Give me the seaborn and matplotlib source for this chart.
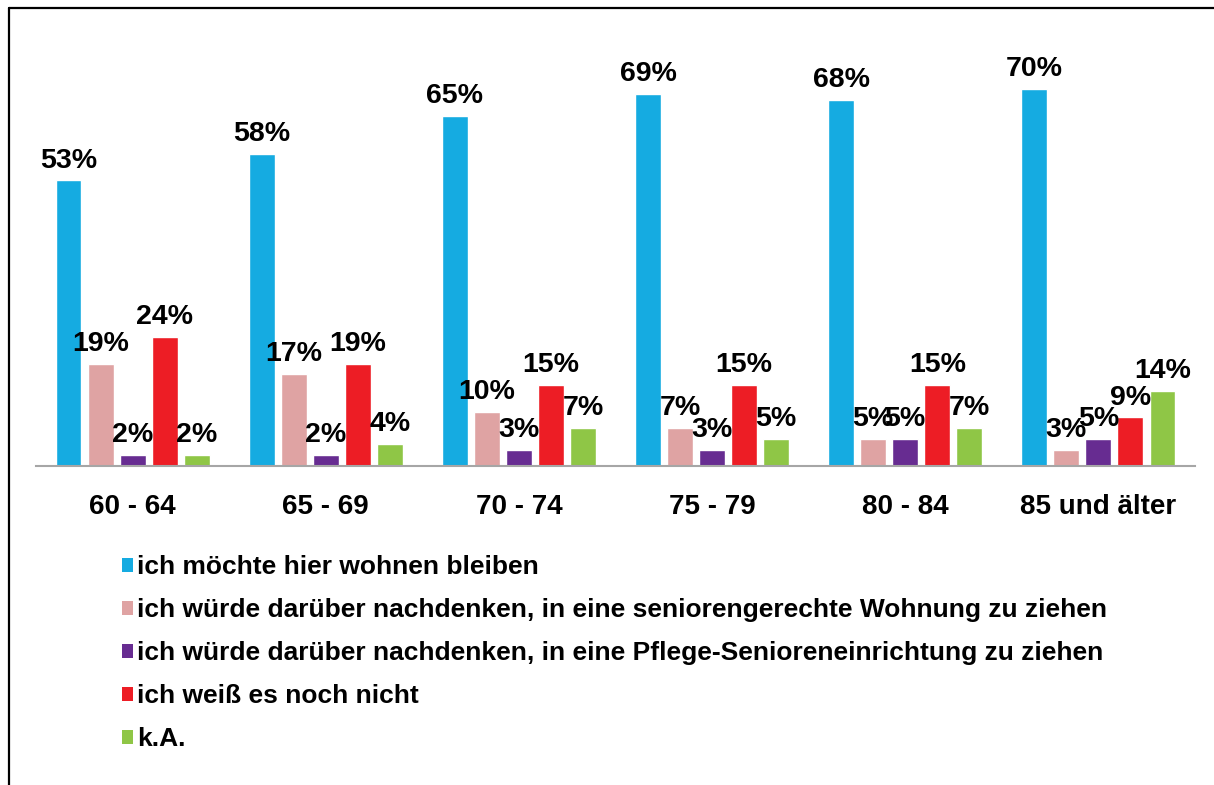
import pandas as pd
import matplotlib.pyplot as plt
import seaborn as sns
from matplotlib.patches import Patch
from matplotlib.lines import Line2D

age_groups = ['60 - 64', '65 - 69', '70 - 74', '75 - 79', '80 - 84', '85 und älter']
answers = [
    'ich möchte hier wohnen bleiben',
    'ich würde darüber nachdenken, in eine seniorengerechte Wohnung zu ziehen',
    'ich würde darüber nachdenken, in eine Pflege-Senioreneinrichtung zu ziehen',
    'ich weiß es noch nicht',
    'k.A.',
]
bleiben = [53, 58, 65, 69, 68, 70]
seniorenwohnung = [19, 17, 10, 7, 5, 3]
pflege = [2, 2, 3, 3, 5, 5]
weiss_nicht = [24, 19, 15, 15, 15, 9]
keine_angabe = [2, 4, 7, 5, 7, 14]
colors = ['#15ABE1', '#DFA3A3', '#672C91', '#ED1D25', '#8FC646']

series = [bleiben, seniorenwohnung, pflege, weiss_nicht, keine_angabe]
rows = []
for answer, vals in zip(answers, series):
    for age, v in zip(age_groups, vals):
        rows.append({'Alter': age, 'Antwort': answer, 'Anteil': v})
df = pd.DataFrame(rows)

sns.set_style('white')
plt.rcParams.update({
    'font.family': ['Liberation Sans', 'DejaVu Sans'],
    'font.weight': 'bold',
    'text.color': 'black',
    'xtick.color': 'black',
    'axes.labelcolor': 'black',
})

fig = plt.figure(figsize=(12.14, 7.85), dpi=100)
ax = fig.add_axes([0.0297, 0.4064, 0.9546, 0.549])

sns.barplot(data=df, x='Alter', y='Anteil', hue='Antwort', order=age_groups,
            hue_order=answers, palette=colors, width=0.83, gap=0.19,
            saturation=1, legend=False, ax=ax)

for container in ax.containers:
    ax.bar_label(container, fmt='%d%%', padding=5, fontsize=20.5,
                 fontweight='bold', color='black')

ax.set_xlim(-0.5, 5.5)
ax.set_ylim(0, 80)
ax.set_xlabel('')
ax.set_ylabel('')
ax.set_yticks([])
ax.tick_params(axis='x', length=0, pad=20, labelsize=20, labelcolor='black')
for lbl in ax.get_xticklabels():
    lbl.set_fontweight('bold')
for side in ['top', 'right', 'left']:
    ax.spines[side].set_visible(False)
ax.spines['bottom'].set_color('#A6A6A6')
ax.spines['bottom'].set_linewidth(1.5)

handles = [Patch(facecolor=c, edgecolor='none') for c in colors]
fig.legend(handles, answers, loc='upper left', bbox_to_anchor=(0.1006, 0.2925),
           frameon=False, prop={'weight': 'bold', 'size': 19},
           handlelength=0.42, handleheight=0.42, handletextpad=0.15,
           labelspacing=0.72, borderaxespad=0, borderpad=0)

# outer frame lines (left and top)
fig.add_artist(Line2D([0.0078, 0.0078], [0.0, 0.9904], transform=fig.transFigure,
                      color='black', linewidth=1.6))
fig.add_artist(Line2D([0.0078, 1.0], [0.9904, 0.9904], transform=fig.transFigure,
                      color='black', linewidth=1.6))

plt.savefig('out.png', dpi=100)
